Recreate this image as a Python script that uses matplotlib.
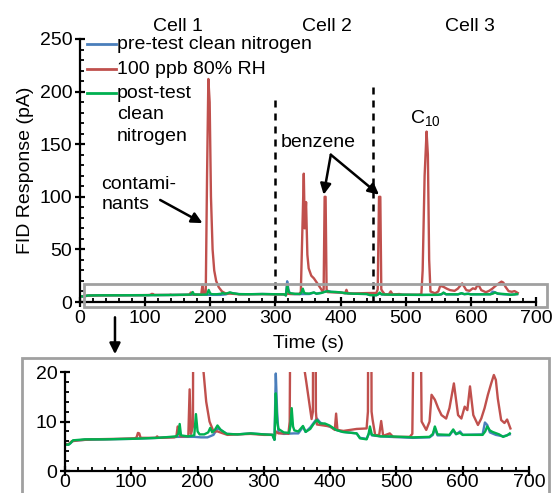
import matplotlib
matplotlib.use('Agg')
import matplotlib.pyplot as plt
from matplotlib.patches import Rectangle, FancyArrowPatch
from matplotlib.ticker import MultipleLocator

plt.rcParams['font.family'] = ['Liberation Sans', 'DejaVu Sans']
plt.rcParams['mathtext.default'] = 'regular'

# pre-test clean nitrogen
pre_time = [0, 5, 8, 12, 30, 60, 100, 140, 170, 185,
            195, 205, 215, 224, 230, 235, 244, 260, 280, 300,
            313, 316, 318, 320, 322, 330, 345, 352, 359, 363,
            370, 380, 385, 392, 399, 409, 419, 440, 445, 455,
            460, 463, 476, 490, 525, 550, 555, 558, 562, 580,
            585.7, 590, 596, 600, 630, 633.5, 637, 641, 650, 661,
            671]
pre_fid = [5.4, 5.3, 5.6, 6.1, 6.3, 6.4, 6.5, 6.7, 6.9, 6.9,
           6.9, 6.8, 6.8, 7.3, 8.6, 8.3, 7.5, 7.4, 7.6, 7.4,
           7.3, 6.3, 19.7, 12, 7.8, 7.5, 7.6, 7.6, 8.9, 7.9,
           8.8, 10.6, 9.8, 9.3, 9.0, 8.3, 7.9, 7.6, 6.7, 6.5,
           8.0, 7.2, 7.0, 6.9, 6.7, 6.8, 7.3, 8.6, 7.2, 7.2,
           8.2, 7.4, 8.0, 7.3, 7.4, 9.8, 9.3, 7.8, 7.3, 7.0,
           7.4]

# 100 ppb 80% RH
run_time = [0, 5, 10, 20, 40, 80, 105, 108, 110, 112,
            114, 137, 139, 141, 165, 168, 170, 172, 174, 186,
            188, 190, 193, 195, 197, 199, 201, 203.5, 206, 209,
            213, 218, 224, 230, 245, 260, 280, 300, 313, 316,
            318, 322, 335, 337, 339, 341, 343.5, 345, 347, 349,
            351, 355, 359, 364, 369, 372, 374, 375.5, 377, 378.5,
            380, 390, 400, 405, 407, 409, 411, 420, 440, 455,
            457, 459, 461, 462.5, 464, 468, 474, 477, 480, 490,
            495, 520, 524, 526, 529, 532, 534, 536, 538, 545,
            550, 553, 558, 563, 568, 575, 580, 586.7, 593, 598,
            603, 607, 611, 616, 623, 628, 633, 638, 643, 647,
            650, 653, 658, 663, 667, 672]
run_fid = [5.5, 5.4, 6.0, 6.2, 6.4, 6.5, 6.6, 6.8, 7.7, 7.6,
           6.7, 6.7, 7.0, 6.7, 6.8, 7.0, 9.0, 8.6, 7.0, 7.0,
           16.5, 7.5, 9, 120, 212, 190, 100, 50, 30, 20,
           14, 10, 8, 8, 7.3, 7.4, 7.5, 7.3, 7.3, 6.5,
           8.0, 7.6, 7.6, 7.5, 10, 60, 122, 70, 95, 45,
           32, 25, 22.5, 18, 13.3, 10.5, 12, 100, 100, 12,
           9.4, 9.2, 9.0, 8.5, 8.3, 11.6, 8.3, 8.1, 8.5, 8.6,
           12, 100, 100, 12, 10.4, 7.2, 7.3, 10.1, 7.1, 7.6,
           6.9, 6.9, 7.5, 30, 120, 162, 140, 40, 10, 8.3,
           10, 15.4, 14.4, 12.7, 11.3, 10.6, 12.7, 17.7, 11.3, 10.6,
           13, 12.3, 17.1, 11.3, 9.3, 10.6, 12.7, 15.4, 17.7, 19.4,
           18.4, 14.6, 10.3, 9.7, 10.4, 8.6]

# post-test clean nitrogen
post_time = [0, 5, 8, 12, 30, 60, 100, 140, 168, 171,
             173, 175, 185, 195, 197.5, 200, 203, 210, 216, 219,
             222, 226, 230, 235, 244, 260, 280, 300, 313, 316,
             318, 320, 322, 330, 338, 340, 342, 344, 346, 352,
             359, 363, 370, 375, 380, 385, 392, 399, 409, 419,
             440, 445, 455, 458, 460, 463, 476, 490, 525, 550,
             555, 558, 562, 580, 585.7, 590, 596, 600, 630, 634,
             637, 641, 645, 655, 661, 667, 671]
post_fid = [5.4, 5.3, 5.6, 6.2, 6.4, 6.4, 6.5, 6.7, 7.0, 7.5,
            9.5, 7.2, 7.0, 7.2, 11.5, 8.0, 7.4, 7.4, 7.8, 8.7,
            7.8, 8.3, 9.2, 8.3, 7.5, 7.4, 7.6, 7.4, 7.3, 6.3,
            15.7, 10, 8.5, 7.8, 7.7, 9, 12.7, 9, 8.2, 8.0,
            9.1, 7.9, 8.5, 9.5, 10.3, 9.6, 9.6, 9.2, 8.3, 7.9,
            7.6, 6.6, 6.4, 7.5, 9.0, 7.3, 7.0, 7.0, 6.8, 6.9,
            7.5, 9.0, 7.4, 7.3, 8.4, 7.5, 7.7, 7.3, 7.3, 8.0,
            9.0, 8.2, 7.9, 7.4, 6.9, 7.2, 7.6]

series_labels = ['pre-test clean nitrogen', '100 ppb 80% RH',
                 'post-test\nclean\nnitrogen']
series_colors = ['#4a7ebb', '#c0504d', '#00b050']
cell_labels = ['Cell 1', 'Cell 2', 'Cell 3']
cell_centers = [151, 379, 599]
cell_bounds = [300, 450]
cell_bound_tops = [195, 205]

series = [(pre_time, pre_fid), (run_time, run_fid), (post_time, post_fid)]

fig = plt.figure(figsize=(5.52, 4.93), dpi=100)
ax = fig.add_axes([0.145, 0.3874, 0.826, 0.5335])
ax_in = fig.add_axes([0.1178, 0.0446, 0.8405, 0.2008])


def style_axis(a):
    for side in ['top', 'right']:
        a.spines[side].set_visible(False)
    for side in ['left', 'bottom']:
        a.spines[side].set_linewidth(1.6)
    a.tick_params(which='major', direction='inout', length=7, width=1.6,
                  labelsize=14, pad=2)
    a.tick_params(which='minor', direction='in', length=3, width=1.3)
    a.xaxis.set_major_locator(MultipleLocator(100))
    a.xaxis.set_minor_locator(MultipleLocator(20))
    a.set_xlim(0, 700)


for a in (ax, ax_in):
    for (t, v), c in zip(series, series_colors):
        a.plot(t, v, color=c, lw=1.7, solid_joinstyle='round')
    style_axis(a)

ax.set_ylim(0, 250)
ax.yaxis.set_major_locator(MultipleLocator(50))
ax.yaxis.set_minor_locator(MultipleLocator(10))
ax.set_ylabel('FID Response (pA)', fontsize=14, labelpad=4)
ax.set_xlabel('Time (s)', fontsize=14, labelpad=6)

ax_in.set_ylim(0, 20)
ax_in.yaxis.set_major_locator(MultipleLocator(10))
ax_in.yaxis.set_minor_locator(MultipleLocator(2))
ax_in.tick_params(axis='x', which='major', pad=-1.5)

# cell boundaries and names
for xb, top in zip(cell_bounds, cell_bound_tops):
    ax.plot([xb, xb], [0, top], color='black', lw=1.8,
            linestyle=(0, (2.8, 2.4)), zorder=1)
for xc, name in zip(cell_centers, cell_labels):
    ax.text(xc, 262, name, ha='center', va='center', fontsize=14,
            clip_on=False)

# annotations
arrow = dict(arrowstyle='-|>', color='black', lw=1.8, mutation_scale=16,
             shrinkA=0, shrinkB=0)
ax.annotate('', xy=(188, 75), xytext=(123, 97), arrowprops=arrow)
ax.text(33, 102, 'contami-\nnants', ha='left', va='center', fontsize=14,
        linespacing=1.25)
ax.text(366, 152, 'benzene', ha='center', va='center', fontsize=14)
ax.annotate('', xy=(374, 102), xytext=(385, 140), arrowprops=arrow)
ax.annotate('', xy=(459, 102), xytext=(385, 140), arrowprops=arrow)
ax.text(531, 175, 'C$_{10}$', ha='center', va='center', fontsize=14)

# legend drawn by hand so the multi-line entry keeps its key on the first line
legend_rows = [0.981, 0.886, 0.795]
for c, lab, yr in zip(series_colors, series_labels, legend_rows):
    ax.plot([0.0154, 0.079], [yr, yr], color=c, lw=2,
            transform=ax.transAxes, clip_on=False)
    ax.text(0.081, yr + 0.031, lab, transform=ax.transAxes, fontsize=14,
            ha='left', va='top', linespacing=1.35)

# zoom box and frame
fig.patches.append(Rectangle((0.152, 0.3773), 0.8388, 0.0467,
                             transform=fig.transFigure, fill=False,
                             edgecolor='#a0a0a0', lw=2))
fig.patches.append(Rectangle((0.0399, -0.05), 0.9547, 0.3238,
                             transform=fig.transFigure, fill=False,
                             edgecolor='#a0a0a0', lw=2))
fig.add_artist(FancyArrowPatch(
    (0.2083, 0.362), (0.2083, 0.276), transform=fig.transFigure,
    arrowstyle='-|>', mutation_scale=16, color='black', lw=1.8))

fig.savefig('out.png', dpi=100)
